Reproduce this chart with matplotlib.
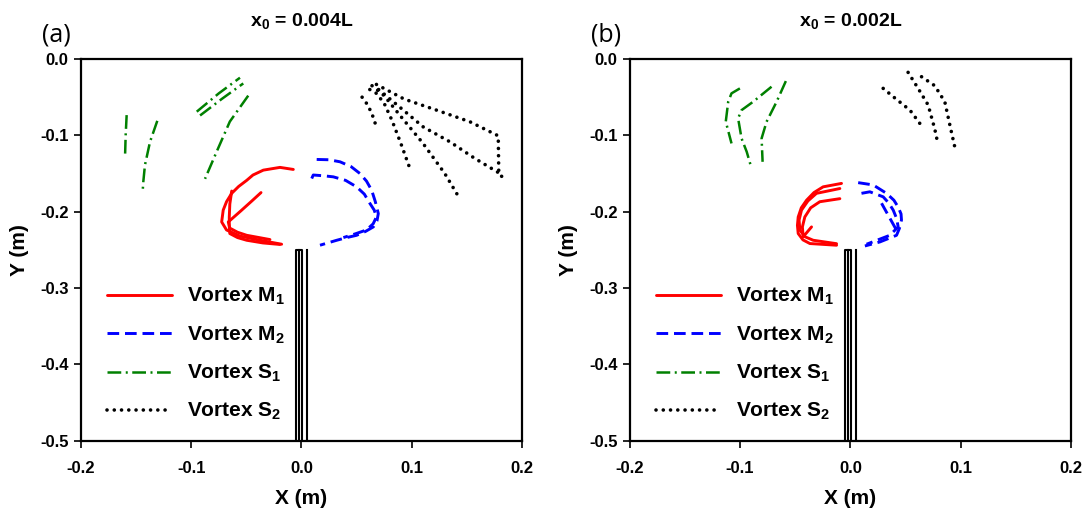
import numpy as np
import matplotlib
matplotlib.use('Agg')
import matplotlib.pyplot as plt

plt.rcParams['font.family'] = ['Liberation Sans Narrow', 'Liberation Sans', 'DejaVu Sans']
plt.rcParams['font.weight'] = 'bold'
plt.rcParams['mathtext.fontset'] = 'custom'
plt.rcParams['mathtext.rm'] = 'Liberation Sans:bold'
plt.rcParams['mathtext.it'] = 'Liberation Sans:bold'
plt.rcParams['mathtext.default'] = 'rm'

# ---- x0 = 0.004L ----
a_m1 = [
    ([-0.0074, -0.0195, -0.0346, -0.0440, -0.0497, -0.0570, -0.0633, -0.068, -0.071, -0.0724, -0.068,
      -0.0558, -0.0376, -0.018],
     [-0.1447, -0.142, -0.1456, -0.152, -0.159, -0.167, -0.176, -0.187, -0.198, -0.2135, -0.224,
      -0.232, -0.2375, -0.2427]),
    ([-0.0633, -0.0650, -0.0655, -0.0655, -0.065, -0.058, -0.0497, -0.035, -0.0195],
     [-0.173, -0.190, -0.207, -0.219, -0.2287, -0.234, -0.2375, -0.241, -0.243]),
    ([-0.0367, -0.045, -0.055, -0.0664, -0.065, -0.058, -0.0497, -0.0286],
     [-0.175, -0.186, -0.199, -0.2135, -0.2216, -0.227, -0.231, -0.2366]),
]
a_m2 = [
    ([0.0138, 0.025, 0.035, 0.045, 0.053, 0.059, 0.0637, 0.067, 0.0697, 0.0685, 0.0652, 0.058, 0.050,
      0.041, 0.032, 0.0168],
     [-0.1316, -0.132, -0.1347, -0.141, -0.150, -0.160, -0.172, -0.187, -0.2025, -0.212, -0.220,
      -0.226, -0.231, -0.234, -0.2375, -0.244]),
    ([0.0093, 0.0107, 0.020, 0.0289, 0.040, 0.050, 0.057, 0.062, 0.066, 0.068, 0.065, 0.059, 0.049, 0.038],
     [-0.1566, -0.152, -0.153, -0.1544, -0.159, -0.1675, -0.177, -0.189, -0.198, -0.207, -0.216,
      -0.224, -0.229, -0.234]),
]
a_s1 = [
    ([-0.1586, -0.1595, -0.160], [-0.0735, -0.100, -0.125]),
    ([-0.1308, -0.1374, -0.142, -0.1435, -0.144], [-0.081, -0.1085, -0.139, -0.161, -0.172]),
    ([-0.095, -0.075, -0.0558], [-0.069, -0.045, -0.0245]),
    ([-0.092, -0.072, -0.0528], [-0.074, -0.052, -0.032]),
    ([-0.0483, -0.065, -0.077, -0.0875], [-0.048, -0.082, -0.1216, -0.157]),
]
a_s2 = [
    ([0.055, 0.060, 0.064, 0.068], [-0.050, -0.060, -0.072, -0.089]),
    ([0.062, 0.068, 0.075, 0.082, 0.090, 0.099], [-0.040, -0.045, -0.058, -0.080, -0.110, -0.146]),
    ([0.064, 0.075, 0.090, 0.110, 0.130, 0.144], [-0.035, -0.048, -0.075, -0.110, -0.150, -0.184]),
    ([0.070, 0.085, 0.1105, 0.1347, 0.157, 0.180], [-0.040, -0.058, -0.089, -0.1085, -0.130, -0.150]),
    ([0.068, 0.0932, 0.1226, 0.1528, 0.1785, 0.179, 0.1846],
     [-0.0333, -0.0525, -0.067, -0.0822, -0.1006, -0.150, -0.158]),
]

# ---- x0 = 0.002L ----
b_m1 = [
    ([-0.008, -0.0247, -0.0330, -0.0397, -0.0445, -0.0473, -0.0480, -0.0473, -0.0430, -0.0367, -0.0125],
     [-0.163, -0.1675, -0.175, -0.185, -0.195, -0.207, -0.218, -0.2287, -0.237, -0.2418, -0.244]),
    ([-0.0095, -0.0307, -0.0385, -0.0443, -0.0465, -0.0458, -0.0410, -0.0337, -0.0125],
     [-0.1697, -0.176, -0.186, -0.198, -0.211, -0.2243, -0.233, -0.2375, -0.242]),
    ([-0.0095, -0.0277, -0.0360, -0.0413, -0.0435, -0.0428, -0.0352],
     [-0.183, -0.187, -0.195, -0.207, -0.220, -0.233, -0.220]),
]
b_m2 = [
    ([0.0071, 0.0207, 0.0328, 0.0395, 0.0434, 0.0460, 0.0464, 0.0445, 0.0419, 0.0268, 0.0132],
     [-0.162, -0.165, -0.176, -0.185, -0.194, -0.203, -0.211, -0.222, -0.231, -0.2397, -0.245]),
    ([0.0101, 0.0177, 0.0298, 0.0350, 0.0389, 0.0420, 0.0434, 0.0358, 0.0147],
     [-0.176, -0.174, -0.1806, -0.189, -0.198, -0.209, -0.220, -0.231, -0.2427]),
    ([0.0283, 0.0419], [-0.189, -0.2243]),
]
b_s1 = [
    ([-0.1002, -0.1078, -0.1108, -0.113, -0.1078], [-0.0385, -0.045, -0.056, -0.082, -0.1106]),
    ([-0.0715, -0.0882, -0.0987, -0.1018, -0.0987, -0.094, -0.0896],
     [-0.0363, -0.056, -0.067, -0.0778, -0.104, -0.1216, -0.1434]),
    ([-0.0585, -0.0669, -0.076, -0.0805, -0.0796], [-0.0289, -0.056, -0.0822, -0.104, -0.1347]),
]
b_s2 = [
    ([0.0298, 0.0419, 0.0541, 0.0653], [-0.0385, -0.0529, -0.067, -0.0888]),
    ([0.0524, 0.0615, 0.0706, 0.0766, 0.0797], [-0.0175, -0.0385, -0.0603, -0.0918, -0.1128]),
    ([0.0646, 0.0766, 0.0857, 0.0903, 0.0954], [-0.0232, -0.035, -0.056, -0.0866, -0.1194]),
]

labels = ['Vortex M$_1$', 'Vortex M$_2$', 'Vortex S$_1$', 'Vortex S$_2$']
titles = ['x$_0$ = 0.004L', 'x$_0$ = 0.002L']
tags = ['(a)', '(b)']

styles = [
    dict(color='red', linestyle='-', lw=2.1),
    dict(color='blue', linestyle=(0, (4.0, 2.0)), lw=2.1),
    dict(color='green', linestyle=(0, (5.5, 1.8, 0.8, 1.8)), lw=1.8),
    dict(color='black', linestyle=(0, (0.01, 2.0)), lw=2.6),
]

fig = plt.figure(figsize=(10.86, 5.27), dpi=100)
lefts = [0.0746, 0.580]

for k, groups in enumerate([(a_m1, a_m2, a_s1, a_s2), (b_m1, b_m2, b_s1, b_s2)]):
    ax = fig.add_axes([lefts[k], 0.164, 0.406, 0.724])
    for g, st, lab in zip(groups, styles, labels):
        for i, (xs, ys) in enumerate(g):
            ax.plot(xs, ys, label=lab if i == 0 else None, solid_joinstyle='round',
                    dash_joinstyle='round', dash_capstyle='round' if st['color'] == 'black' else 'butt',
                    solid_capstyle='round', **st)

    # plate
    ax.plot([-0.005, -0.005, 0.0005, 0.0005], [-0.5, -0.25, -0.25, -0.5], color='black', lw=1.5)
    ax.plot([-0.0018, -0.0018], [-0.5, -0.25], color='black', lw=1.5)
    ax.plot([0.0048, 0.0048], [-0.5, -0.25], color='black', lw=1.5)

    ax.set_xlim(-0.2, 0.2)
    ax.set_ylim(-0.5, 0.0)
    ax.set_xticks([-0.2, -0.1, 0.0, 0.1, 0.2])
    ax.set_yticks([-0.5, -0.4, -0.3, -0.2, -0.1, 0.0])
    ax.xaxis.set_major_formatter(matplotlib.ticker.FormatStrFormatter('%.1f'))
    ax.yaxis.set_major_formatter(matplotlib.ticker.FormatStrFormatter('%.1f'))
    ax.tick_params(direction='out', length=5, width=1.2, labelsize=12, pad=4)
    ax.tick_params(axis='x', pad=10)
    for sp in ax.spines.values():
        sp.set_linewidth(1.6)
    ax.set_xlabel('X (m)', fontsize=15, fontweight='bold', labelpad=9)
    ax.set_ylabel('Y (m)', fontsize=15, fontweight='bold', labelpad=8)
    ax.set_title(titles[k], fontsize=14, fontweight='bold', pad=24)
    ax.text(-0.235, 0.031, tags[k], fontsize=18, fontweight='normal', family=['Open Sans', 'DejaVu Sans'],
            ha='left', va='center')

    ax.legend(loc='upper left', bbox_to_anchor=(0.06, 0.405), frameon=False, fontsize=15,
              handlelength=3.1, handletextpad=0.7, labelspacing=0.82, borderpad=0, borderaxespad=0)

fig.savefig('out.png', dpi=100)
